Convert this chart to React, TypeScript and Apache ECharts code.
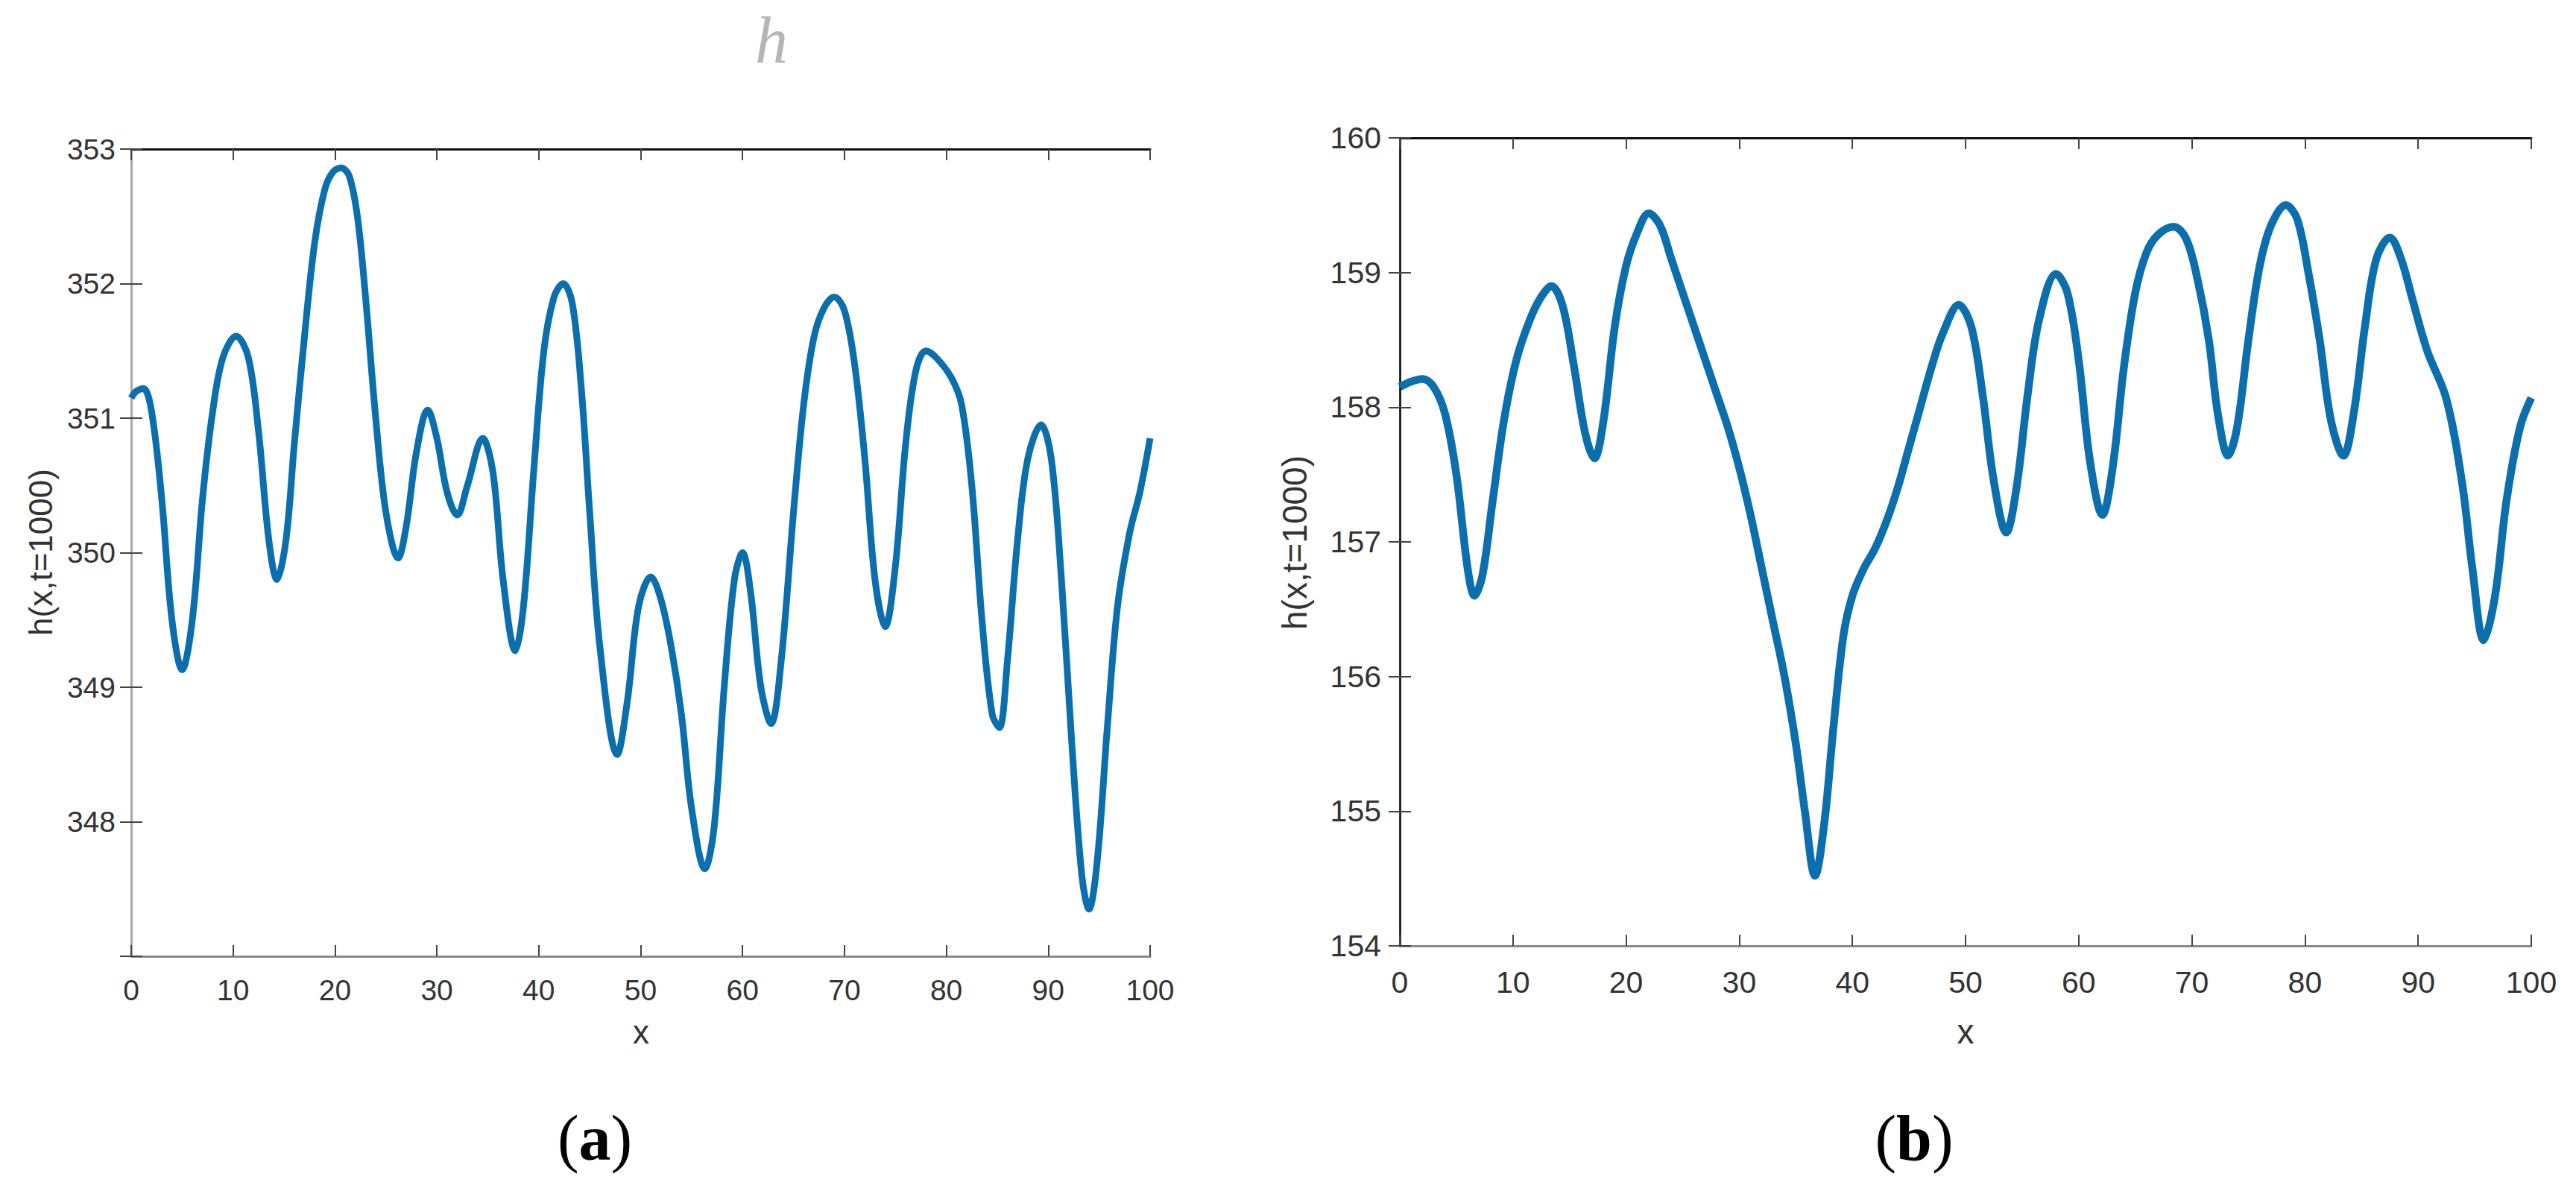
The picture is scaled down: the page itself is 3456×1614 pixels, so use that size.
import React, { useEffect, useRef } from "react";
import * as echarts from "echarts";

// ---------- data (a) ----------
const xA = [0, 0.5, 1.2, 2, 3, 4, 5, 6, 7, 8, 9, 10.3, 11.5, 12.5, 13.5, 14.3, 15.2, 16, 17, 18, 19, 19.8, 20.6, 21.4, 22.2, 23, 24, 25, 26.2, 27, 28, 29.1, 30, 31, 32, 33, 34.5, 35.5, 36.5, 37.7, 38.5, 39.5, 40.5, 41.5, 42.4, 43.3, 44.2, 45, 46, 47.7, 48.7, 49.8, 51, 52, 53, 54, 55, 56.3, 57.2, 58.2, 59.2, 60, 60.8, 61.8, 62.8, 63.8, 65, 66, 67, 68, 69, 70, 71, 72, 73, 74, 75, 76, 77, 78, 79, 80.5, 81.5, 82.5, 83.5, 84.5, 85.2, 86, 87, 88, 89.3, 90.3, 91.3, 92.3, 93.3, 94, 94.8, 95.8, 96.8, 98, 99, 100];
const hA = [351.15, 351.2, 351.22, 351.05, 350.4, 349.5, 349.13, 349.5, 350.4, 351.05, 351.45, 351.61, 351.45, 350.9, 350.1, 349.8, 350.1, 350.8, 351.6, 352.3, 352.7, 352.83, 352.86, 352.8, 352.5, 351.9, 351.0, 350.3, 349.96, 350.2, 350.75, 351.06, 350.85, 350.45, 350.28, 350.5, 350.85, 350.6, 349.8, 349.27, 349.6, 350.6, 351.5, 351.9, 352.0, 351.85, 351.2, 350.3, 349.3, 348.5, 348.9, 349.6, 349.82, 349.65, 349.3, 348.8, 348.1, 347.65, 347.95, 349.0, 349.8, 350.0, 349.7, 349.0, 348.73, 349.2, 350.3, 351.1, 351.6, 351.82, 351.9, 351.8, 351.4, 350.7, 349.8, 349.45, 349.9, 350.8, 351.35, 351.5, 351.45, 351.3, 351.1, 350.5, 349.5, 348.8, 348.7, 349.2, 350.1, 350.7, 350.95, 350.7, 349.8, 348.6, 347.6, 347.35, 347.7, 348.7, 349.6, 350.15, 350.45, 350.85];

// ---------- data (b) ----------
const xB = [0, 1, 2, 3, 4, 5, 6, 6.6, 7.3, 8.2, 9.2, 10.3, 11.5, 12.5, 13.4, 14.4, 15.4, 16.4, 17.2, 18, 19, 20, 21, 22, 23, 24, 25, 26, 27, 28, 29, 30, 31, 32, 33, 34, 35, 35.8, 36.7, 37.5, 38.3, 39.2, 40, 41, 42, 43, 44, 45, 46, 47, 48, 49.4, 50.5, 51.5, 52.5, 53.6, 54.5, 55.5, 56.5, 58, 59, 60, 61, 62.1, 63, 64, 65, 66, 67, 68.4, 69.5, 70.5, 71.5, 72.3, 73.2, 74, 75, 76, 77, 78.3, 79.3, 80.3, 81.3, 82.3, 83.4, 84.3, 85.3, 86.3, 87.5, 88.5, 89.5, 90.8, 92.5, 93.9, 94.8, 95.8, 96.8, 97.8, 99, 100];
const hB = [158.15, 158.19, 158.21, 158.15, 157.95, 157.5, 156.8, 156.6, 156.75, 157.3, 157.9, 158.35, 158.65, 158.82, 158.9, 158.75, 158.3, 157.8, 157.62, 157.9, 158.6, 159.05, 159.3, 159.44, 159.35, 159.1, 158.85, 158.6, 158.35, 158.1, 157.85, 157.55, 157.2, 156.8, 156.4, 156.0, 155.5, 155.0, 154.52, 154.9, 155.6, 156.3, 156.6, 156.8, 156.95, 157.15, 157.4, 157.7, 158.0, 158.3, 158.55, 158.76, 158.6, 158.1, 157.45, 157.07, 157.4, 158.1, 158.65, 158.99, 158.85, 158.35, 157.6, 157.2, 157.55, 158.3, 158.85, 159.15, 159.28, 159.34, 159.25, 158.95, 158.5, 157.95, 157.64, 157.85, 158.5, 159.05, 159.35, 159.5, 159.4, 159.0, 158.5, 157.9, 157.64, 157.95, 158.6, 159.1, 159.26, 159.1, 158.8, 158.42, 158.06, 157.43, 156.8, 156.27, 156.6, 157.3, 157.85, 158.07];

const xMin = 0, xMax = 100, xStep = 10;
const yMinA = 347, yMaxA = 353;
const yMinB = 154, yMaxB = 160;
const yLabel = "h(x,t=1000)";
const xLabel = "x";

const LINE = "#0b6fad";
const TXT = "#333333";
const SANS = "Liberation Sans, Arial, sans-serif";
const SERIF = "Liberation Serif, Times New Roman, serif";

function axesFor(gi: number, yMin: number, yMax: number, hideMin: boolean, rightColor: string, rightW: number, fs: number, xm: number, ym: number) {
  const tick = { show: true, inside: true, length: 15, lineStyle: { color: "#444", width: 2 } };
  const xAxes = [
    {
      type: "value", gridIndex: gi, min: xMin, max: xMax, interval: xStep, position: "bottom",
      axisLine: { show: true, lineStyle: { color: "#8a8a8a", width: 3 } },
      axisTick: tick,
      axisLabel: { color: TXT, fontSize: fs, fontFamily: SANS, margin: xm },
      splitLine: { show: false },
    },
    {
      type: "value", gridIndex: gi, min: xMin, max: xMax, interval: xStep, position: "top",
      axisLine: { show: true, lineStyle: { color: "#111", width: 3 } },
      axisTick: tick,
      axisLabel: { show: false },
      splitLine: { show: false },
    },
  ];
  const yAxes = [
    {
      type: "value", gridIndex: gi, min: yMin, max: yMax, interval: 1, position: "left",
      axisLine: { show: true, lineStyle: { color: "#7a7a7a", width: 2.5 } },
      axisTick: tick,
      axisLabel: {
        color: TXT, fontSize: fs, fontFamily: SANS, margin: ym,
        formatter: (v: number) => (hideMin && v === yMin ? "" : String(v)),
      },
      splitLine: { show: false },
    },
    {
      type: "value", gridIndex: gi, min: yMin, max: yMax, interval: 1, position: "right",
      axisLine: { show: true, lineStyle: { color: rightColor, width: rightW } },
      axisTick: tick,
      axisLabel: { show: false },
      splitLine: { show: false },
    },
  ];
  return { xAxes, yAxes };
}

export default function App() {
  const ref = useRef<HTMLDivElement>(null);
  useEffect(() => {
    if (!ref.current) return;
    const chart = echarts.init(ref.current, undefined, { renderer: "svg" });
    const a = axesFor(0, yMinA, yMaxA, true, "#a8a8a8", 2.5, 39, 26, 21);
    const b = axesFor(1, yMinB, yMaxB, false, "#111", 2.5, 41, 28, 25);
    const dataA = xA.map((x, i) => [x, hA[i]]);
    const dataB = xB.map((x, i) => [x, hB[i]]);
    chart.setOption({
      animation: false,
      backgroundColor: "#ffffff",
      grid: [
        { left: 176, top: 200, width: 1367, height: 1083 },
        { left: 1878, top: 185, width: 1518, height: 1084 },
      ],
      xAxis: [...a.xAxes, ...b.xAxes],
      yAxis: [...a.yAxes, ...b.yAxes],
      series: [
        {
          type: "line", xAxisIndex: 0, yAxisIndex: 0, data: dataA, showSymbol: false,
          smooth: 0.35, lineStyle: { color: LINE, width: 9 }, itemStyle: { color: LINE },
        },
        {
          type: "line", xAxisIndex: 2, yAxisIndex: 2, data: dataB, showSymbol: false,
          smooth: 0.35, lineStyle: { color: LINE, width: 10.5 }, itemStyle: { color: LINE },
        },
      ],
      graphic: [
        {
          type: "text", x: 1035, y: 54,
          style: { text: "h", fill: "#b5b5b5", font: `italic 88px ${SERIF}`, align: "center", verticalAlign: "middle" },
        },
        {
          type: "text", x: 54, y: 741, rotation: Math.PI / 2,
          style: { text: yLabel, fill: TXT, font: `44px ${SANS}`, align: "center", verticalAlign: "middle" },
        },
        {
          type: "text", x: 1737, y: 728, rotation: Math.PI / 2,
          style: { text: yLabel, fill: TXT, font: `46px ${SANS}`, align: "center", verticalAlign: "middle" },
        },
        {
          type: "text", x: 860, y: 1384,
          style: { text: xLabel, fill: TXT, font: `44px ${SANS}`, align: "center", verticalAlign: "middle" },
        },
        {
          type: "text", x: 2637, y: 1384,
          style: { text: xLabel, fill: TXT, font: `46px ${SANS}`, align: "center", verticalAlign: "middle" },
        },
        {
          type: "text", x: 798, y: 1527,
          style: {
            text: "{n|(}{b|a}{n|)}", align: "center", verticalAlign: "middle",
            rich: {
              n: { fontFamily: SERIF, fontSize: 86, fill: "#000" },
              b: { fontFamily: SERIF, fontSize: 86, fontWeight: "bold", fill: "#000" },
            },
          },
        },
        {
          type: "text", x: 2568, y: 1527,
          style: {
            text: "{n|(}{b|b}{n|)}", align: "center", verticalAlign: "middle",
            rich: {
              n: { fontFamily: SERIF, fontSize: 86, fill: "#000" },
              b: { fontFamily: SERIF, fontSize: 86, fontWeight: "bold", fill: "#000" },
            },
          },
        },
      ],
    });
    return () => chart.dispose();
  }, []);
  return (
    <div
      ref={ref}
      style={{ position: "absolute", left: 0, top: 0, width: 3456, height: 1614, background: "#fff" }}
    />
  );
}
